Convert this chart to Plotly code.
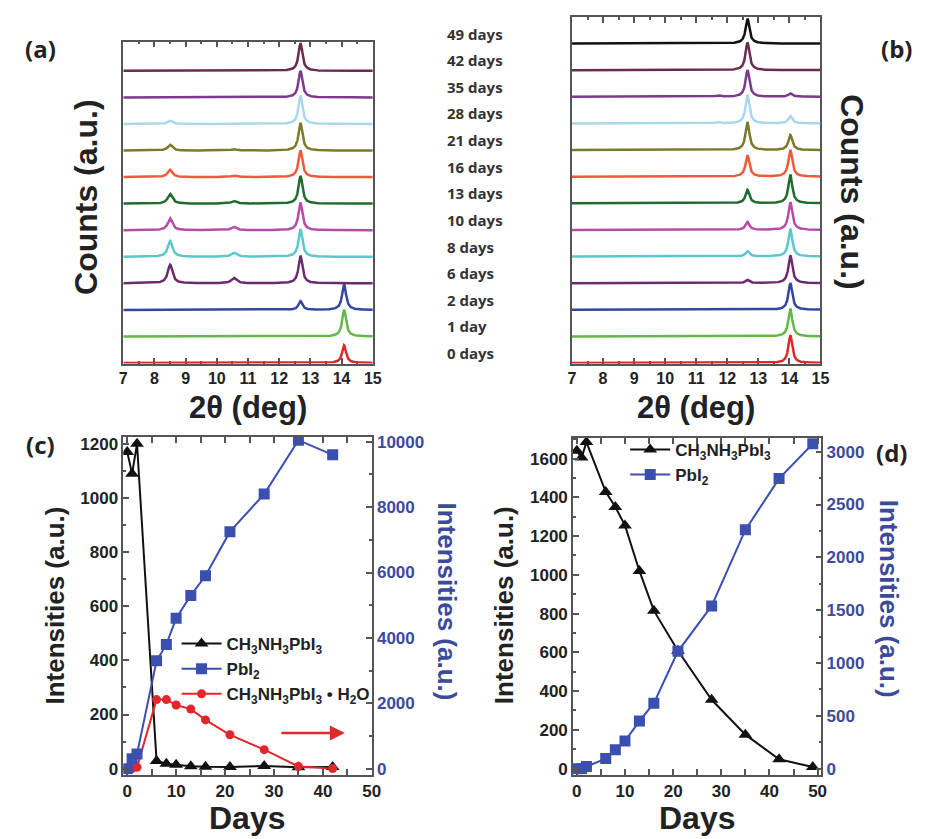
import numpy as np
import plotly.graph_objects as go

W, H = 933, 839
FONT = "Liberation Sans, Arial, sans-serif"
LBLFONT = "Open Sans, Noto Sans, sans-serif"

# ---------------- XRD patterns (panels a, b) ----------------
days_b = [0, 1, 2, 6, 8, 10, 13, 16, 21, 28, 35, 42, 49]
day_labels = ["0 days", "1 day", "2 days", "6 days", "8 days", "10 days", "13 days",
              "16 days", "21 days", "28 days", "35 days", "42 days", "49 days"]
trace_colors = ["#e0282c", "#63b84a", "#3346a0", "#6b2b6e", "#5cc6cc", "#b44ca8",
                "#1f6b30", "#ee5a3a", "#7a7a2a", "#a8d8ee", "#7b3a8f", "#6b2a52", "#111111"]

# panel (a): peak positions (deg), half widths, relative heights per day (0..42 days)
peaks_a_pos = [8.5, 10.55, 12.68, 14.08]
peaks_a_hwhm = [0.09, 0.1, 0.075, 0.075]
heights_a = [
    [0.00, 0.00, 0.00, 0.67],  # 0 days
    [0.00, 0.00, 0.00, 1.00],  # 1 day
    [0.00, 0.00, 0.33, 0.97],  # 2 days
    [0.70, 0.20, 1.04, 0.00],  # 6 days
    [0.60, 0.15, 1.04, 0.00],  # 8 days
    [0.45, 0.12, 1.04, 0.00],  # 10 days
    [0.37, 0.10, 1.04, 0.00],  # 13 days
    [0.28, 0.06, 1.00, 0.00],  # 16 days
    [0.22, 0.05, 1.04, 0.00],  # 21 days
    [0.12, 0.00, 1.07, 0.00],  # 28 days
    [0.00, 0.00, 1.00, 0.00],  # 35 days
    [0.00, 0.00, 1.04, 0.00],  # 42 days
]

# panel (b): peak positions, half widths, heights per day (0..49 days)
peaks_b_pos = [11.7, 12.65, 14.03]
peaks_b_hwhm = [0.08, 0.075, 0.075]
heights_b = [
    [0.00, 0.00, 1.04],  # 0
    [0.00, 0.00, 1.04],  # 1
    [0.00, 0.00, 1.00],  # 2
    [0.00, 0.12, 1.04],  # 6
    [0.00, 0.20, 1.04],  # 8
    [0.00, 0.30, 1.04],  # 10
    [0.00, 0.50, 1.07],  # 13
    [0.00, 0.80, 1.00],  # 16
    [0.02, 1.04, 0.56],  # 21
    [0.05, 1.07, 0.27],  # 28
    [0.05, 1.00, 0.12],  # 35
    [0.00, 1.04, 0.03],  # 42
    [0.00, 0.93, 0.00],  # 49
]

two_theta = np.arange(7.0, 15.0001, 0.01)


def pattern(pos, hwhm, heights):
    y = np.zeros_like(two_theta)
    for p, w, h in zip(pos, hwhm, heights):
        y += h / (1.0 + ((two_theta - p) / w) ** 2)
    return y


# ---------------- Panel (c) ----------------
days_c = [0, 1, 2, 6, 8, 10, 13, 16, 21, 28, 35, 42]
mapi_c = [1170, 1090, 1200, 28, 18, 14, 9, 7, 6, 10, 5, 6]
pbi2_c = [0, 300, 450, 3300, 3800, 4600, 5300, 5900, 7250, 8400, 10050, 9600]
hydrate_c = [0, 0, 5, 255, 255, 235, 220, 180, 125, 70, 8, 0]

# ---------------- Panel (d) ----------------
days_d = [0, 1, 2, 6, 8, 10, 13, 16, 21, 28, 35, 42, 49]
mapi_d = [1640, 1605, 1685, 1428, 1350, 1255, 1020, 815, 608, 355, 175, 48, 8]
pbi2_d = [0, 0, 20, 95, 180, 262, 450, 620, 1110, 1540, 2260, 2745, 3075]

BLACK = "#111111"
BLUE = "#3a4fb0"
BLUE_TXT = "#3c4a9c"
RED = "#e0282c"
AXC = "#555555"

fig = go.Figure()

# panel (a) traces
for i, h in enumerate(heights_a):
    fig.add_trace(go.Scatter(x=two_theta, y=pattern(peaks_a_pos, peaks_a_hwhm, h) + i,
                             mode="lines", line=dict(color=trace_colors[i], width=2.5),
                             xaxis="x", yaxis="y", showlegend=False, hoverinfo="skip"))
# panel (b) traces
for i, h in enumerate(heights_b):
    fig.add_trace(go.Scatter(x=two_theta, y=pattern(peaks_b_pos, peaks_b_hwhm, h) + i,
                             mode="lines", line=dict(color=trace_colors[i], width=2.5),
                             xaxis="x2", yaxis="y2", showlegend=False, hoverinfo="skip"))

MAPI = "CH<sub>3</sub>NH<sub>3</sub>PbI<sub>3</sub>"
PBI2 = "PbI<sub>2</sub>"
HYD = "CH<sub>3</sub>NH<sub>3</sub>PbI<sub>3</sub> \u2022 H<sub>2</sub>O"

# panel (c)
fig.add_trace(go.Scatter(x=days_c, y=mapi_c, mode="lines+markers", name=MAPI,
                         line=dict(color=BLACK, width=2),
                         marker=dict(symbol="triangle-up", size=12, color=BLACK),
                         xaxis="x3", yaxis="y3", legend="legend"))
fig.add_trace(go.Scatter(x=days_c, y=pbi2_c, mode="lines+markers", name=PBI2,
                         line=dict(color=BLUE, width=2),
                         marker=dict(symbol="square", size=11, color=BLUE),
                         xaxis="x3", yaxis="y4", legend="legend"))
fig.add_trace(go.Scatter(x=days_c, y=hydrate_c, mode="lines+markers", name=HYD,
                         line=dict(color=RED, width=2),
                         marker=dict(symbol="circle", size=9, color=RED),
                         xaxis="x3", yaxis="y3", legend="legend"))
# panel (d)
fig.add_trace(go.Scatter(x=days_d, y=mapi_d, mode="lines+markers", name=MAPI,
                         line=dict(color=BLACK, width=2),
                         marker=dict(symbol="triangle-up", size=12, color=BLACK),
                         xaxis="x4", yaxis="y5", legend="legend2"))
fig.add_trace(go.Scatter(x=days_d, y=pbi2_d, mode="lines+markers", name=PBI2,
                         line=dict(color=BLUE, width=2),
                         marker=dict(symbol="square", size=11, color=BLUE),
                         xaxis="x4", yaxis="y6", legend="legend2"))


def px(x):
    return x / W


def py(y):
    return 1 - y / H


tickf = dict(family=FONT, size=16, color="#222222", weight="bold")
tickf2 = dict(family=FONT, size=17, color="#222222", weight="bold")
tickf_blue = dict(family=FONT, size=17, color=BLUE_TXT, weight="bold")

xrd_x = dict(range=[7, 15], dtick=1, tick0=7, ticks="inside", ticklen=6, tickwidth=1.5,
             tickcolor=AXC, showline=True, linecolor=AXC, linewidth=1.5, mirror="allticks",
             showgrid=False, zeroline=False, tickfont=tickf, layer="below traces",
             minor=dict(dtick=0.5, tick0=7, ticks="inside", ticklen=3, tickcolor=AXC, showgrid=False))
xrd_y = dict(showline=True, linecolor=AXC, linewidth=1.5, mirror=True, ticks="",
             showticklabels=False, showgrid=False, zeroline=False, layer="below traces")

days_x = dict(dtick=10, tick0=0, ticks="inside", ticklen=6, tickwidth=1.5, tickcolor=AXC,
              showline=True, linecolor=AXC, linewidth=1.5, mirror="allticks", showgrid=False,
              zeroline=False, tickfont=tickf2,
              minor=dict(dtick=5, ticks="inside", ticklen=3, tickcolor=AXC, showgrid=False))


def inty(rng, dt, mdt, font, **kw):
    d = dict(range=rng, dtick=dt, tick0=0, ticks="inside", ticklen=6, tickwidth=1.5,
             tickcolor=AXC, showline=True, linecolor=AXC, linewidth=1.5, showgrid=False,
             zeroline=False, tickfont=font, tickformat="d",
             minor=dict(dtick=mdt, ticks="inside", ticklen=3, tickcolor=AXC, showgrid=False))
    d.update(kw)
    return d


fig.update_layout(
    width=W, height=H, margin=dict(l=0, r=0, t=0, b=0),
    paper_bgcolor="white", plot_bgcolor="white",
    xaxis=dict(domain=[px(121), px(374)], anchor="y", **xrd_x),
    yaxis=dict(domain=[py(363), py(38)], anchor="x", range=[-0.02, 12.1], **xrd_y),
    xaxis2=dict(domain=[px(576), px(828)], anchor="y2", **xrd_x),
    yaxis2=dict(domain=[py(363), py(13)], anchor="x2", range=[-0.02, 13.0], **xrd_y),
    xaxis3=dict(domain=[px(121), px(373)], anchor="y3", range=[-0.8, 50.0], **days_x),
    yaxis3=inty([-22, 1226], 200, 100, tickf2, domain=[py(778), py(437)], anchor="x3"),
    yaxis4=inty([-182, 10152], 2000, 1000, tickf_blue, overlaying="y3", side="right", anchor="x3"),
    xaxis4=dict(domain=[px(577), px(829)], anchor="y5", range=[-0.8, 50.8], **days_x),
    yaxis5=inty([-31, 1707], 200, 100, tickf2, domain=[py(778), py(438)], anchor="x4"),
    yaxis6=inty([-56, 3131], 500, 250, tickf_blue, overlaying="y5", side="right", anchor="x4"),
    legend=dict(x=px(175), y=py(628), xanchor="left", yanchor="top", bgcolor="rgba(0,0,0,0)",
                font=dict(family=FONT, size=17, color="#222222", weight="bold"),
                itemwidth=40, tracegroupgap=0),
    legend2=dict(x=px(630), y=py(432), xanchor="left", yanchor="top", bgcolor="rgba(0,0,0,0)",
                 font=dict(family=FONT, size=17, color="#222222", weight="bold"),
                 itemwidth=40, tracegroupgap=0),
)

ann = []
# day labels aligned with panel (b) baselines
for i, lab in enumerate(day_labels):
    ann.append(dict(text=lab, x=px(447), xref="paper", y=i, yref="y2", yshift=10,
                    xanchor="left", yanchor="middle", showarrow=False,
                    font=dict(family=LBLFONT, size=15, color="#333333", weight="bold")))


def txt(t, x, y, size, angle=0, color="#222222", fam=FONT):
    ann.append(dict(text=t, x=px(x), y=py(y), xref="paper", yref="paper", xanchor="center",
                    yanchor="middle", showarrow=False, textangle=angle,
                    font=dict(family=fam, size=size, color=color, weight="bold")))


# axis titles
txt("Counts (a.u.)", 83, 195, 32, -90)
txt("Counts (a.u.)", 860, 190, 32, 90)
txt("2\u03b8 (deg)", 247, 407, 31)
txt("2\u03b8 (deg)", 702, 407, 31)
txt("Intensities (a.u.)", 52, 607, 26, -90)
txt("Intensities (a.u.)", 449, 603, 26, 90, BLUE_TXT)
txt("Intensities (a.u.)", 507, 607, 26, -90)
txt("Intensities (a.u.)", 897, 600, 26, 90, BLUE_TXT)
txt("Days", 247, 822, 32)
txt("Days", 703, 822, 32)
# panel labels
txt("(a)", 37, 45, 24, fam=LBLFONT)
txt("(b)", 905, 45, 24, fam=LBLFONT)
txt("(c)", 37, 445, 24, fam=LBLFONT)
txt("(d)", 900, 453, 24, fam=LBLFONT)

# red arrow in (c)
ann.append(dict(x=44.5, y=132, xref="x3", yref="y3", ax=31.2, ay=132, axref="x3", ayref="y3",
                showarrow=True, arrowhead=2, arrowsize=1.2, arrowwidth=2.5, arrowcolor=RED, text=""))

fig.update_layout(annotations=ann)

fig.write_html("out.html")
